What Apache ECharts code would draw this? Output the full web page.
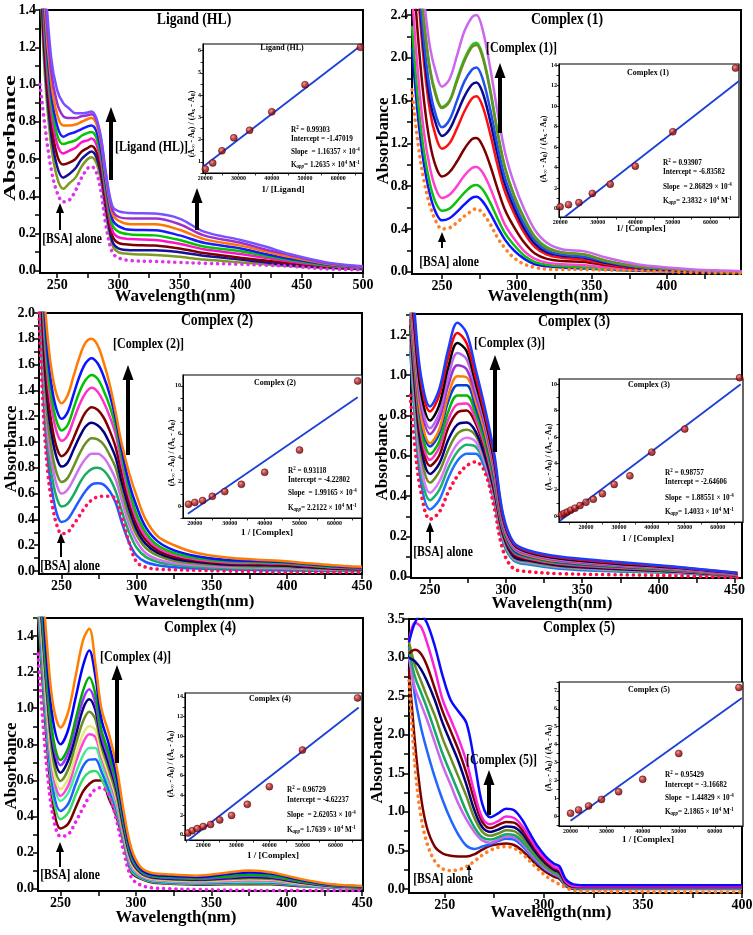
<!DOCTYPE html>
<html><head><meta charset="utf-8">
<script src="https://cdn.jsdelivr.net/npm/echarts@6.0.0/dist/echarts.min.js"></script>
<style>html,body{margin:0;padding:0;background:#fff}#c{width:753px;height:935px}</style>
</head><body><div id="c"></div>
<script>
// ================= DATA =================
// ---- Panel 1 : Ligand (HL) ----
const wl1 = [236,240,245,250,255,260,265,270,275,278,282,286,290,295,300,310,330,350,370,400,420,440,470,500];
const p1_bsa = [1.00,0.78,0.55,0.42,0.37,0.38,0.43,0.50,0.55,0.56,0.53,0.42,0.24,0.10,0.07,0.055,0.05,0.045,0.04,0.035,0.03,0.025,0.01,0.005];
const p1_s1 = [1.60,1.05,0.68,0.50,0.44,0.47,0.50,0.56,0.60,0.61,0.58,0.48,0.30,0.14,0.10,0.09,0.085,0.075,0.06,0.045,0.035,0.025,0.015,0.008];
const p1_s2 = [1.70,1.12,0.74,0.56,0.50,0.52,0.55,0.60,0.63,0.64,0.61,0.51,0.33,0.16,0.12,0.11,0.11,0.10,0.08,0.06,0.045,0.03,0.018,0.01];
const p1_s3 = [1.80,1.18,0.80,0.62,0.57,0.58,0.60,0.64,0.66,0.67,0.64,0.54,0.36,0.19,0.15,0.14,0.135,0.12,0.095,0.07,0.055,0.04,0.022,0.012];
const p1_s4 = [1.90,1.24,0.86,0.68,0.63,0.645,0.66,0.69,0.70,0.71,0.68,0.58,0.40,0.22,0.18,0.17,0.165,0.145,0.115,0.09,0.07,0.05,0.027,0.014];
const p1_s5 = [2.00,1.30,0.91,0.73,0.68,0.69,0.70,0.725,0.74,0.745,0.715,0.61,0.43,0.25,0.21,0.195,0.19,0.165,0.13,0.105,0.08,0.058,0.03,0.016];
const p1_s6 = [2.10,1.36,0.96,0.78,0.72,0.735,0.745,0.76,0.775,0.78,0.75,0.64,0.46,0.28,0.24,0.22,0.218,0.19,0.15,0.12,0.09,0.065,0.034,0.018];
const p1_s7 = [2.20,1.42,1.02,0.84,0.78,0.78,0.785,0.80,0.815,0.82,0.79,0.68,0.49,0.31,0.27,0.25,0.25,0.22,0.17,0.135,0.105,0.075,0.038,0.02];
const p1_s8 = [2.30,1.50,1.08,0.90,0.83,0.82,0.82,0.83,0.835,0.84,0.81,0.70,0.51,0.33,0.29,0.28,0.28,0.25,0.19,0.15,0.115,0.085,0.042,0.022];
const p1_s9 = [2.40,1.60,1.15,0.97,0.90,0.87,0.845,0.845,0.85,0.855,0.82,0.71,0.52,0.35,0.32,0.31,0.307,0.28,0.21,0.165,0.13,0.09,0.045,0.024];
const p1_colors = ['#dd33ee','#7f9a1f','#12129a','#7f0000','#ff11cc','#00c800','#1a1aff','#ff7700','#9a30d0','#7a50ff'];

// ---- Panel 2 : Complex (1) ----
const wl2 = [230,234,238,242,246,250,255,260,265,270,273,277,282,287,292,298,305,312,320,330,345,360,380,400,425,450];
const p2_bsa = [1.7,1.2,0.85,0.62,0.47,0.40,0.41,0.46,0.52,0.57,0.59,0.55,0.45,0.32,0.22,0.13,0.07,0.04,0.025,0.02,0.02,0.015,0.01,0.0,-0.01,-0.015];
const p2_s1 = [2.1,1.45,1.0,0.72,0.55,0.48,0.50,0.56,0.63,0.69,0.70,0.66,0.55,0.42,0.30,0.20,0.12,0.07,0.05,0.04,0.03,0.02,0.01,0.005,-0.005,-0.01];
const p2_s2 = [2.3,1.6,1.12,0.82,0.64,0.57,0.59,0.66,0.74,0.80,0.81,0.77,0.65,0.50,0.36,0.25,0.15,0.09,0.065,0.05,0.04,0.025,0.015,0.008,0,-0.008];
const p2_s3 = [2.6,1.85,1.3,0.97,0.77,0.69,0.72,0.80,0.90,0.97,0.98,0.93,0.79,0.61,0.44,0.31,0.19,0.12,0.085,0.07,0.06,0.04,0.02,0.01,0.0,-0.005];
const p2_s4 = [3.0,2.2,1.6,1.2,0.98,0.89,0.93,1.03,1.15,1.24,1.25,1.18,1.0,0.78,0.58,0.42,0.27,0.17,0.12,0.1,0.09,0.06,0.03,0.015,0.0,-0.005];
const p2_s5 = [3.2,2.6,1.95,1.5,1.26,1.15,1.2,1.34,1.5,1.62,1.64,1.55,1.3,1.0,0.75,0.55,0.36,0.23,0.16,0.13,0.11,0.07,0.035,0.02,0.005,0.0];
const p2_s6 = [3.3,2.7,2.05,1.6,1.38,1.27,1.33,1.48,1.64,1.75,1.77,1.68,1.42,1.1,0.82,0.6,0.4,0.26,0.18,0.15,0.13,0.08,0.04,0.02,0.005,0.0];
const p2_s7 = [3.4,2.8,2.15,1.7,1.46,1.35,1.42,1.6,1.78,1.89,1.91,1.81,1.53,1.18,0.88,0.65,0.44,0.29,0.2,0.16,0.14,0.09,0.045,0.025,0.008,0.0];
const p2_s8 = [3.5,3.0,2.35,1.9,1.66,1.54,1.6,1.8,1.99,2.12,2.14,2.03,1.72,1.32,0.98,0.72,0.5,0.33,0.23,0.18,0.16,0.1,0.05,0.03,0.01,0.0];
const p2_s9 = [3.5,3.0,2.33,1.88,1.64,1.53,1.59,1.78,1.97,2.10,2.12,2.01,1.70,1.30,0.97,0.71,0.49,0.32,0.22,0.18,0.16,0.1,0.05,0.03,0.01,0.0];
const p2_s10 = [3.6,3.2,2.55,2.1,1.86,1.73,1.8,2.02,2.25,2.38,2.40,2.27,1.92,1.5,1.12,0.83,0.58,0.39,0.27,0.21,0.19,0.13,0.07,0.04,0.015,0.005];
const p2_colors = ['#ff7f27','#0a14ff','#10c010','#ff40d0','#7a0000','#ff1010','#0a0a90','#2050f0','#22cc22','#6b8e23','#cc66ee'];

// ---- Panel 3 : Complex (2) ----
const wl3 = [235,238,241,244,247,250,254,258,262,266,270,274,278,282,286,290,295,300,306,314,325,340,360,380,395,410,430,450];
const p3_bsa = [2.0,1.2,0.75,0.5,0.35,0.29,0.30,0.36,0.43,0.50,0.55,0.575,0.58,0.58,0.56,0.42,0.22,0.07,0.03,0.015,0.01,0.005,0.0,-0.005,-0.01,-0.01,-0.01,-0.01];
const p3_s1 = [2.2,1.35,0.85,0.6,0.44,0.38,0.40,0.47,0.55,0.62,0.67,0.68,0.67,0.62,0.53,0.38,0.22,0.12,0.07,0.045,0.03,0.02,0.012,0.008,0.006,0.004,0.0,0.0];
const p3_s2 = [2.3,1.45,0.95,0.71,0.56,0.50,0.52,0.59,0.68,0.75,0.79,0.80,0.78,0.72,0.62,0.47,0.3,0.18,0.11,0.07,0.048,0.032,0.022,0.017,0.015,0.012,0.006,0.003];
const p3_s3 = [2.4,1.55,1.05,0.81,0.66,0.60,0.63,0.71,0.80,0.87,0.91,0.91,0.88,0.81,0.71,0.55,0.36,0.23,0.14,0.09,0.06,0.045,0.032,0.026,0.024,0.018,0.01,0.006];
const p3_s4 = [2.5,1.65,1.15,0.9,0.75,0.69,0.72,0.81,0.91,0.99,1.03,1.02,0.98,0.9,0.8,0.62,0.42,0.28,0.18,0.12,0.08,0.058,0.042,0.036,0.033,0.025,0.015,0.01];
const p3_s5 = [2.6,1.75,1.27,1.02,0.87,0.81,0.84,0.94,1.04,1.12,1.15,1.13,1.08,0.99,0.88,0.69,0.48,0.32,0.21,0.14,0.095,0.07,0.05,0.045,0.042,0.033,0.02,0.013];
const p3_s6 = [2.7,1.85,1.35,1.1,0.95,0.89,0.93,1.03,1.14,1.23,1.27,1.25,1.19,1.09,0.96,0.76,0.53,0.36,0.24,0.16,0.11,0.08,0.058,0.053,0.05,0.04,0.024,0.016];
const p3_s7 = [2.8,1.95,1.47,1.22,1.07,1.01,1.05,1.17,1.29,1.38,1.42,1.39,1.31,1.2,1.06,0.83,0.58,0.4,0.27,0.18,0.125,0.09,0.067,0.062,0.058,0.047,0.028,0.02];
const p3_s8 = [2.9,2.05,1.55,1.3,1.15,1.09,1.13,1.26,1.39,1.48,1.52,1.49,1.4,1.28,1.12,0.89,0.63,0.44,0.3,0.2,0.14,0.1,0.075,0.07,0.065,0.052,0.032,0.024];
const p3_s9 = [3.0,2.15,1.65,1.39,1.24,1.18,1.23,1.37,1.51,1.61,1.65,1.61,1.51,1.37,1.18,0.94,0.68,0.5,0.34,0.23,0.16,0.115,0.085,0.078,0.072,0.058,0.038,0.028];
const p3_s10 = [3.1,2.25,1.78,1.51,1.36,1.30,1.36,1.51,1.66,1.77,1.80,1.75,1.62,1.45,1.23,0.99,0.76,0.58,0.40,0.27,0.2,0.14,0.105,0.088,0.08,0.065,0.045,0.033];
const p3_colors = ['#ff1060','#1e5aff','#1aaa60','#d070f0','#6b8e23','#000080','#800000','#ff30d0','#00c400','#0a14ff','#ff7a00'];

// ---- Panel 4 : Complex (3) ----
const wl4 = [237,240,244,250,256,262,268,274,280,286,292,298,305,315,335,370,410,452];
const p4_bsa = [0.9,0.65,0.42,0.285,0.32,0.42,0.5,0.55,0.57,0.52,0.35,0.13,0.04,0.025,0.015,0.01,0.005,-0.005];
const p4_s1 = [1.12,0.79,0.47,0.334,0.38,0.49,0.575,0.61,0.61,0.54,0.38,0.17,0.08,0.06,0.04,0.027,0.018,0.0];
const p4_s2 = [1.15,0.83,0.52,0.38,0.43,0.54,0.62,0.655,0.645,0.56,0.39,0.18,0.085,0.065,0.045,0.03,0.02,0.002];
const p4_s3 = [1.18,0.87,0.56,0.417,0.47,0.58,0.66,0.69,0.67,0.57,0.4,0.19,0.09,0.07,0.048,0.034,0.022,0.003];
const p4_s4 = [1.22,0.91,0.61,0.467,0.52,0.63,0.71,0.73,0.7,0.59,0.42,0.2,0.095,0.075,0.052,0.037,0.024,0.004];
const p4_s5 = [1.25,0.95,0.65,0.51,0.56,0.68,0.755,0.765,0.72,0.6,0.43,0.21,0.1,0.08,0.056,0.04,0.026,0.005];
const p4_s6 = [1.28,0.99,0.69,0.55,0.6,0.74,0.815,0.825,0.76,0.63,0.45,0.22,0.11,0.085,0.06,0.043,0.028,0.006];
const p4_s7 = [1.3,1.02,0.72,0.58,0.64,0.78,0.855,0.86,0.78,0.65,0.46,0.23,0.12,0.09,0.064,0.046,0.03,0.007];
const p4_s8 = [1.33,1.05,0.75,0.609,0.67,0.82,0.9,0.9,0.81,0.67,0.48,0.24,0.125,0.095,0.068,0.049,0.032,0.008];
const p4_s9 = [1.36,1.08,0.78,0.646,0.71,0.87,0.95,0.95,0.84,0.7,0.5,0.25,0.13,0.1,0.072,0.052,0.035,0.009];
const p4_s10 = [1.38,1.1,0.8,0.662,0.73,0.9,0.995,0.99,0.87,0.72,0.52,0.26,0.14,0.105,0.076,0.055,0.037,0.01];
const p4_s11 = [1.42,1.15,0.85,0.708,0.78,0.95,1.05,1.03,0.9,0.75,0.54,0.27,0.145,0.11,0.08,0.058,0.04,0.012];
const p4_s12 = [1.45,1.18,0.88,0.737,0.81,0.99,1.11,1.08,0.93,0.77,0.56,0.28,0.15,0.115,0.085,0.062,0.042,0.014];
const p4_s13 = [1.5,1.22,0.92,0.775,0.85,1.04,1.16,1.12,0.96,0.79,0.58,0.29,0.16,0.12,0.09,0.066,0.045,0.016];
const p4_s14 = [1.55,1.26,0.97,0.82,0.9,1.09,1.21,1.16,0.99,0.81,0.6,0.3,0.165,0.125,0.095,0.07,0.048,0.018];
const p4_s15 = [1.6,1.3,1.0,0.845,0.93,1.13,1.26,1.21,1.03,0.84,0.62,0.31,0.17,0.13,0.1,0.075,0.05,0.02];
const p4_colors = ['#ff1040','#2070ff','#20b070','#dd77ff','#6b8e23','#000080','#800000','#ff33cc','#00bb00','#0040dd','#ff8000','#9933cc','#bb66ee','#000000','#ff0000','#1a3cff'];

// ---- Panel 5 : Complex (4) ----
const wl5 = [235,238,241,245,250,255,260,265,269,273,277,282,287,292,297,303,310,320,340,360,375,390,410,430,450];
const p5_bsa = [1.3,0.95,0.66,0.4,0.29,0.3,0.37,0.45,0.51,0.55,0.56,0.52,0.38,0.2,0.06,0.02,0.005,0.0,-0.005,-0.008,-0.01,-0.01,-0.01,-0.01,-0.01];
const p5_s1 = [1.5,1.15,0.79,0.46,0.333,0.36,0.45,0.54,0.58,0.6,0.6,0.5,0.4,0.25,0.09,0.055,0.036,0.028,0.022,0.024,0.025,0.024,0.013,0.005,0.001];
const p5_s2 = [1.55,1.2,0.84,0.51,0.385,0.42,0.52,0.61,0.645,0.652,0.61,0.52,0.42,0.26,0.1,0.06,0.04,0.032,0.026,0.028,0.03,0.028,0.016,0.006,0.002];
const p5_s3 = [1.58,1.25,0.88,0.55,0.43,0.47,0.58,0.68,0.715,0.717,0.65,0.55,0.44,0.27,0.11,0.065,0.044,0.036,0.03,0.033,0.035,0.033,0.019,0.008,0.003];
const p5_s4 = [1.62,1.3,0.93,0.61,0.486,0.53,0.64,0.74,0.78,0.78,0.69,0.58,0.46,0.28,0.12,0.07,0.048,0.04,0.034,0.038,0.04,0.038,0.022,0.009,0.004];
const p5_s5 = [1.65,1.33,0.96,0.64,0.514,0.57,0.7,0.81,0.856,0.84,0.73,0.61,0.48,0.29,0.13,0.075,0.052,0.044,0.038,0.043,0.046,0.044,0.025,0.01,0.005];
const p5_s6 = [1.68,1.36,1.0,0.67,0.551,0.61,0.74,0.86,0.90,0.88,0.75,0.63,0.5,0.3,0.14,0.08,0.056,0.048,0.042,0.048,0.052,0.049,0.028,0.012,0.006];
const p5_s7 = [1.72,1.4,1.05,0.72,0.597,0.66,0.8,0.93,0.98,0.94,0.79,0.66,0.52,0.31,0.15,0.085,0.06,0.052,0.046,0.053,0.058,0.054,0.031,0.013,0.007];
const p5_s8 = [1.75,1.44,1.09,0.77,0.643,0.71,0.85,1.0,1.05,0.99,0.82,0.69,0.55,0.33,0.16,0.09,0.064,0.056,0.05,0.058,0.065,0.06,0.034,0.015,0.008];
const p5_s9 = [1.78,1.47,1.12,0.81,0.684,0.75,0.9,1.05,1.105,1.03,0.85,0.72,0.57,0.35,0.17,0.095,0.068,0.06,0.054,0.063,0.071,0.065,0.037,0.016,0.009];
const p5_s10 = [1.8,1.5,1.15,0.84,0.713,0.78,0.94,1.1,1.17,1.08,0.88,0.75,0.59,0.36,0.18,0.1,0.072,0.064,0.058,0.068,0.077,0.07,0.04,0.018,0.01];
const p5_s11 = [1.9,1.6,1.25,0.93,0.80,0.88,1.06,1.24,1.32,1.18,0.94,0.8,0.63,0.39,0.2,0.11,0.08,0.072,0.065,0.08,0.09,0.082,0.047,0.021,0.012];
const p5_s12 = [2.0,1.7,1.35,1.02,0.893,0.98,1.18,1.38,1.44,1.25,1.0,0.86,0.68,0.42,0.22,0.12,0.088,0.08,0.072,0.088,0.1,0.09,0.052,0.024,0.015];
const p5_colors = ['#ee22ee','#7a0000','#33dd66','#1e60ff','#44ee99','#ff44dd','#e6e87a','#6b8e23','#000080','#9933ff','#00aa00','#0000ff','#ff7f00'];

// ---- Panel 6 : Complex (5) ----
const wl6 = [232,235,238,241,245,249,253,257,261,265,269,273,277,281,285,289,293,297,301,305,308,311,315,320,340,370,400];
const p6_bsa = [2.7,1.6,0.95,0.6,0.36,0.26,0.24,0.25,0.29,0.36,0.44,0.5,0.54,0.55,0.53,0.46,0.36,0.26,0.17,0.1,0.06,0.02,-0.02,-0.03,-0.035,-0.04,-0.04];
const p6_s1 = [2.85,1.9,1.2,0.8,0.55,0.46,0.43,0.42,0.42,0.45,0.51,0.56,0.58,0.59,0.57,0.5,0.4,0.3,0.22,0.16,0.13,0.04,0.0,0.0,0.0,0.0,0.0];
const p6_s2 = [3.15,2.5,2.1,1.8,1.45,1.15,0.9,0.7,0.56,0.52,0.55,0.58,0.62,0.65,0.64,0.56,0.45,0.34,0.25,0.19,0.15,0.05,0.01,0.005,0.005,0.005,0.005];
const p6_s3 = [3.0,2.6,2.4,2.2,1.9,1.6,1.35,1.1,0.9,0.74,0.63,0.6,0.64,0.68,0.67,0.59,0.47,0.36,0.26,0.2,0.16,0.055,0.015,0.01,0.01,0.01,0.01];
const p6_s4 = [3.1,2.75,2.55,2.35,2.05,1.75,1.5,1.25,1.0,0.8,0.67,0.64,0.67,0.71,0.7,0.62,0.5,0.38,0.28,0.21,0.17,0.06,0.02,0.015,0.015,0.015,0.015];
const p6_s5 = [3.2,2.9,2.7,2.5,2.25,1.95,1.7,1.45,1.2,0.92,0.74,0.69,0.72,0.76,0.75,0.67,0.54,0.41,0.3,0.23,0.19,0.07,0.025,0.02,0.02,0.02,0.02];
const p6_s6 = [3.0,2.95,2.85,2.7,2.45,2.15,1.9,1.65,1.35,1.02,0.8,0.74,0.77,0.81,0.8,0.72,0.58,0.44,0.33,0.25,0.21,0.08,0.03,0.025,0.025,0.025,0.025];
const p6_s7 = [3.05,3.1,3.05,2.9,2.6,2.3,2.05,1.8,1.5,1.15,0.87,0.79,0.83,0.87,0.86,0.77,0.62,0.47,0.35,0.27,0.23,0.09,0.035,0.03,0.03,0.03,0.03];
const p6_s8 = [3.2,3.45,3.4,3.2,2.85,2.45,2.2,1.95,1.65,1.25,0.92,0.84,0.88,0.94,0.92,0.82,0.66,0.5,0.38,0.29,0.25,0.1,0.04,0.035,0.035,0.035,0.035];
const p6_s9 = [3.2,3.45,3.55,3.45,3.15,2.76,2.45,2.3,2.15,1.65,1.1,0.93,0.98,1.04,1.02,0.9,0.72,0.55,0.42,0.33,0.29,0.13,0.06,0.05,0.05,0.05,0.05];
const p6_colors = ['#ff7f27','#7a0000','#2266ff','#cc66ee','#11aa66','#6b8e23','#000080','#800000','#ff22dd','#0a0aff'];

// ---- Inset (Benesi-Hildebrand) data ----
const ins1_x = [20000,22222,25000,28571,33333,40000,50000,66667];
const ins1_y = [0.68,0.95,1.5,2.08,2.42,3.25,4.47,6.15];
const ins1_fit = [[19300,0.78],[67450,6.3]];
const ins2_x = [20000,22222,25000,28571,33333,40000,50000,66667];
const ins2_y = [0.2,0.4,0.6,1.5,2.4,4.15,7.5,13.7];
const ins2_fit = [[21200,-0.8],[67600,12.45]];
const ins3_x = [18182,20000,22222,25000,28571,33333,40000,50000,66667];
const ins3_y = [0.15,0.3,0.45,0.8,1.2,1.8,2.8,4.65,10.4];
const ins3_fit = [[18000,-0.64],[66667,9.05]];
const ins4_x = [12500,13333,14286,15385,16667,18182,20000,22222,25000,28571,33333,40000,50000,66667];
const ins4_y = [0.08,0.2,0.3,0.45,0.6,0.8,1.05,1.28,1.7,2.4,3.05,4.85,6.6,10.5];
const ins4_fit = [[12000,-0.38],[67000,10.0]];
const ins5_x = [15385,16667,18182,20000,22222,25000,28571,33333,40000,50000,66667];
const ins5_y = [0.18,0.42,0.63,0.84,1.05,1.51,1.97,3.09,4.89,8.6,13.9];
const ins5_fit = [[15000,-0.69],[67000,12.93]];
const ins6_x = [20000,22222,25000,28571,33333,40000,50000,66667];
const ins6_y = [0.15,0.34,0.56,0.93,1.36,2.05,3.5,7.19];
const ins6_fit = [[20000,-0.27],[67500,6.6]];

// ---- tick labels ----
const p1_xLabels = [250,300,350,400,450,500];
const p1_yLabels = [0,0.2,0.4,0.6,0.8,1.0,1.2,1.4];
const p2_xLabels = [250,300,350,400,450];
const p2_yLabels = [0,0.4,0.8,1.2,1.6,2.0,2.4];
const p3_xLabels = [250,300,350,400,450];
const p3_yLabels = [0,0.2,0.4,0.6,0.8,1.0,1.2,1.4,1.6,1.8,2.0];
const p4_xLabels = [250,300,350,400,450];
const p4_yLabels = [0,0.2,0.4,0.6,0.8,1.0,1.2];
const p5_xLabels = [250,300,350,400,450];
const p5_yLabels = [0,0.2,0.4,0.6,0.8,1.0,1.2,1.4];
const p6_xLabels = [250,300,350,400];
const p6_yLabels = [0,0.5,1.0,1.5,2.0,2.5,3.0,3.5];
const ins_xLabels = [20000,30000,40000,50000,60000];
const ins1_yLabels = [1,2,3,4,5,6];
const ins2_yLabels = [0,2,4,6,8,10,12,14];
const ins3_yLabels = [0,2,4,6,8,10];
const ins4_yLabels = [0,2,4,6,8,10];
const ins5_yLabels = [0,2,4,6,8,10,12,14];
const ins6_yLabels = [0,1,2,3,4,5,6,7];

// ---- texts ----
const titles = ['Ligand (HL)','Complex (1)','Complex (2)','Complex (3)','Complex (4)','Complex (5)'];
const arrowLabels = ['[Ligand (HL)]','[Complex (1)]','[Complex (2)]','[Complex (3)]','[Complex (4)]','[Complex (5)]'];
const insXNames = ['1/ [Ligand]','1/ [Complex]','1 / [Complex]','1 / [Complex]','1 / [Complex]','1 / [Complex]'];
const stats = [
  ['0.99303','-1.47019','1.16357','-4','1.2635','4'],
  ['0.93907','-6.83582','2.86829','-4','2.3832','4'],
  ['0.93118','-4.22802','1.99165','-4','2.2122','4'],
  ['0.98757','-2.64606','1.88551','-4','1.4033','4'],
  ['0.96729','-4.62237','2.62053','-4','1.7639','4'],
  ['0.95429','-3.16682','1.44829','-4','2.1865','4']
];

// ================= LAYOUT / STYLE =================
const SERIF = '"Liberation Serif","Times New Roman",Times,serif';
const mainGrids = [
  {left:40, top:10, width:323, height:263, x:[236,500], y:[-0.012,1.4]},
  {left:412, top:10, width:329, height:264, x:[230,449.5], y:[-0.0215,2.447]},
  {left:39, top:313, width:323, height:261, x:[235,450], y:[-0.023,2.0]},
  {left:411, top:314, width:331, height:264, x:[237.5,455], y:[-0.0065,1.304]},
  {left:38, top:618, width:325, height:273, x:[235,450.5], y:[-0.013,1.5]},
  {left:409, top:619, width:333, height:274, x:[232,400], y:[-0.052,3.5]}
];
const insetGrids = [
  {left:203, top:44, width:160, height:129, x:[19300,67450], y:[0.5,6.3]},
  {left:559, top:64, width:180, height:153, x:[19700,67600], y:[-0.8,14.1]},
  {left:183, top:375, width:179, height:143, x:[16600,67900], y:[-1.0,10.9]},
  {left:559, top:379, width:184, height:143, x:[11800,67700], y:[-0.45,10.4]},
  {left:185, top:693, width:177, height:147, x:[14500,68000], y:[-0.53,14.4]},
  {left:559, top:682, width:184, height:144, x:[16800,67800], y:[-0.56,7.5]}
];
const panels = [
  {wl:wl1, curves:[p1_bsa,p1_s1,p1_s2,p1_s3,p1_s4,p1_s5,p1_s6,p1_s7,p1_s8,p1_s9], colors:p1_colors, xl:p1_xLabels, yl:p1_yLabels},
  {wl:wl2, curves:[p2_bsa,p2_s1,p2_s2,p2_s3,p2_s4,p2_s5,p2_s6,p2_s7,p2_s8,p2_s9,p2_s10], colors:p2_colors, xl:p2_xLabels, yl:p2_yLabels},
  {wl:wl3, curves:[p3_bsa,p3_s1,p3_s2,p3_s3,p3_s4,p3_s5,p3_s6,p3_s7,p3_s8,p3_s9,p3_s10], colors:p3_colors, xl:p3_xLabels, yl:p3_yLabels},
  {wl:wl4, curves:[p4_bsa,p4_s1,p4_s2,p4_s3,p4_s4,p4_s5,p4_s6,p4_s7,p4_s8,p4_s9,p4_s10,p4_s11,p4_s12,p4_s13,p4_s14,p4_s15], colors:p4_colors, xl:p4_xLabels, yl:p4_yLabels},
  {wl:wl5, curves:[p5_bsa,p5_s1,p5_s2,p5_s3,p5_s4,p5_s5,p5_s6,p5_s7,p5_s8,p5_s9,p5_s10,p5_s11,p5_s12], colors:p5_colors, xl:p5_xLabels, yl:p5_yLabels},
  {wl:wl6, curves:[p6_bsa,p6_s1,p6_s2,p6_s3,p6_s4,p6_s5,p6_s6,p6_s7,p6_s8,p6_s9], colors:p6_colors, xl:p6_xLabels, yl:p6_yLabels}
];
const insets = [
  {x:ins1_x, y:ins1_y, fit:ins1_fit, yl:ins1_yLabels},
  {x:ins2_x, y:ins2_y, fit:ins2_fit, yl:ins2_yLabels},
  {x:ins3_x, y:ins3_y, fit:ins3_fit, yl:ins3_yLabels},
  {x:ins4_x, y:ins4_y, fit:ins4_fit, yl:ins4_yLabels},
  {x:ins5_x, y:ins5_y, fit:ins5_fit, yl:ins5_yLabels},
  {x:ins6_x, y:ins6_y, fit:ins6_fit, yl:ins6_yLabels}
];

function ticksFrom(labels, min, max) {
  const step = labels[1] - labels[0];
  const out = [];
  for (let i = -1; i < labels.length; i++) {
    const a = labels[0] + i * step;
    [a, a + step / 2].forEach(v => {
      v = Math.round(v * 1e6) / 1e6;
      if (v >= min - 1e-9 && v <= max + 1e-9) out.push(v);
    });
  }
  return out;
}
function makeAxis(dim, gi, min, max, labels, fmt, inset) {
  return {
    type: 'value', gridIndex: gi, min: min, max: max,
    position: dim === 'x' ? 'bottom' : 'left',
    axisLine: {show: true, onZero: false, lineStyle: {color: '#000', width: inset ? 1 : 2}},
    axisTick: {show: true, inside: false, length: inset ? 2.5 : 5, customValues: ticksFrom(labels, min, max),
               lineStyle: {color: '#000', width: inset ? 0.8 : 1.5}},
    axisLabel: {show: true, customValues: labels, formatter: fmt, color: '#000', fontFamily: SERIF,
                fontWeight: 'bold', fontSize: inset ? 6 : 14, margin: inset ? 2 : (dim === 'x' ? 5 : 4)},
    splitLine: {show: false}, minorTick: {show: false}, minorSplitLine: {show: false}
  };
}

const grid = [], xAxis = [], yAxis = [], series = [];
mainGrids.forEach((g, i) => {
  grid.push({left: g.left, top: g.top, width: g.width, height: g.height, show: true, borderColor: '#000',
             borderWidth: 2, backgroundColor: 'transparent', containLabel: false, outerBoundsMode: 'none'});
  xAxis.push(makeAxis('x', i, g.x[0], g.x[1], panels[i].xl, v => String(Math.round(v)), false));
  yAxis.push(makeAxis('y', i, g.y[0], g.y[1], panels[i].yl, v => v.toFixed(1), false));
});
insetGrids.forEach((g, i) => {
  grid.push({left: g.left, top: g.top, width: g.width, height: g.height, show: true, borderColor: '#000',
             borderWidth: 1.2, backgroundColor: '#fff', containLabel: false, outerBoundsMode: 'none'});
  xAxis.push(makeAxis('x', 6 + i, g.x[0], g.x[1], ins_xLabels, v => String(Math.round(v)), true));
  yAxis.push(makeAxis('y', 6 + i, g.y[0], g.y[1], insets[i].yl, v => String(Math.round(v)), true));
});

panels.forEach((p, pi) => {
  p.curves.forEach((vals, ci) => {
    const isBSA = ci === 0;
    series.push({
      type: 'line', xAxisIndex: pi, yAxisIndex: pi, silent: true, animation: false,
      data: p.wl.map((w, k) => [w, vals[k]]), smooth: 0.35, symbol: 'none', showSymbol: false, clip: true,
      lineStyle: isBSA ? {color: p.colors[ci], width: 3.6, type: [0.1, 6], cap: 'round'}
                       : {color: p.colors[ci], width: 2.5},
      z: isBSA ? 3 : 2
    });
  });
});
const dotColor = {type: 'radial', x: 0.38, y: 0.35, r: 0.7,
  colorStops: [{offset: 0, color: '#f08080'}, {offset: 0.45, color: '#b01818'}, {offset: 1, color: '#5a0000'}]};
insets.forEach((s, i) => {
  series.push({type: 'line', xAxisIndex: 6 + i, yAxisIndex: 6 + i, data: s.fit, symbol: 'none', silent: true,
               animation: false, lineStyle: {color: '#1c3fd6', width: 1.8}, z: 4});
  series.push({type: 'scatter', xAxisIndex: 6 + i, yAxisIndex: 6 + i, data: s.x.map((x, k) => [x, s.y[k]]),
               symbol: 'circle', symbolSize: 7, silent: true, animation: false, clip: false,
               itemStyle: {color: dotColor, borderColor: '#4a0000', borderWidth: 0.6}, z: 5});
});

// ================= ANNOTATIONS =================
const RICH = {
  sup: {fontSize: 5.5, fontWeight: 'bold', fontFamily: SERIF, fill: '#000', verticalAlign: 'top', padding: [0, 0, 4, 0]},
  sub: {fontSize: 5.5, fontWeight: 'bold', fontStyle: 'italic', fontFamily: SERIF, fill: '#000', verticalAlign: 'bottom', padding: [3, 0, 0, 0]},
  s8: {fontSize: 6, fontWeight: 'bold', fontFamily: SERIF, fill: '#000', verticalAlign: 'bottom', padding: [3, 0, 0, 0]}
};
function txt(x, y, text, size, o) {
  o = o || {};
  return {type: 'text', x: x, y: y, rotation: o.rot || 0, scaleX: o.sx || 1, scaleY: o.sy || 1, silent: true, z: 100,
    style: {text: text, fill: '#000', fontSize: size, fontWeight: 'bold', fontFamily: SERIF,
            align: o.align || 'center', verticalAlign: 'middle', textAlign: o.align || 'center',
            textVerticalAlign: 'middle', rich: RICH}};
}
function arrow(x, yTail, yHead, shaft, headW, headH) {
  return [
    {type: 'rect', silent: true, z: 100, shape: {x: x - shaft / 2, y: yHead + headH - 1, width: shaft, height: yTail - (yHead + headH - 1)}, style: {fill: '#000'}},
    {type: 'polygon', silent: true, z: 100, shape: {points: [[x - headW / 2, yHead + headH], [x + headW / 2, yHead + headH], [x, yHead]]}, style: {fill: '#000'}}
  ];
}
const g = [];
const titlePos = [[194,20],[567,20],[217,321],[574,322],[200,628],[579,628]];
const labelPos = [[115,147],[486,48],[113,344],[474,343],[100,657],[466,760]];
const bsaPos = [[72,239],[449,262],[70,566],[443,552],[70,875],[443,879]];
const absPos = [[11,138],[384,141],[12,449],[383,457],[12,766],[378,760]];
const wlPos = [[175,297],[548,297],[194,602],[552,604],[176,918],[551,913]];
for (let i = 0; i < 6; i++) {
  g.push(txt(titlePos[i][0], titlePos[i][1], titles[i], 16, {sx: 0.86}));
  g.push(txt(labelPos[i][0], labelPos[i][1], arrowLabels[i], 15, {align: 'left', sx: 0.8}));
  g.push(txt(bsaPos[i][0], bsaPos[i][1], '[BSA] alone', 14, {sx: 0.83}));
  g.push(txt(absPos[i][0], absPos[i][1], 'Absorbance', 17, {rot: Math.PI / 2, sx: i === 0 ? 1.45 : 1.0}));
  g.push(txt(wlPos[i][0], wlPos[i][1], 'Wavelength(nm)', 17));
}
[[111,180,107],[500,133,63],[128,455,365],[495,452,355],[117,763,665],[489,815,770]].forEach(a => g.push(...arrow(a[0], a[1], a[2], 4, 11, 15)));
g.push(...arrow(197, 230, 188, 4, 11, 15));
[[60,230,203],[442,248,232],[61,557,533],[430,543,522],[60,867,842]].forEach(a => g.push(...arrow(a[0], a[1], a[2], 2, 8, 10)));
g.push(...arrow(469, 876, 864, 1.2, 5, 6));

// inset texts
const insTitlePos = [[282,48],[648,73],[275,383],[649,385],[270,699],[649,690]];
const insStatPos = [[291,[130,138.5,152,165]],[663,[163,172,187,201]],[288,[471,480,493,508]],[665,[473,482,498,512]],[287,[790,800,815,830]],[665,[775,785,798,812]]];
const insXNamePos = [[283,190],[641,229],[267,533],[648,539],[273,856],[648,840]];
const insYNamePos = [[192,124],[544,149],[172,453],[549,457],[171,764],[549,758]];
for (let i = 0; i < 6; i++) {
  g.push(txt(insTitlePos[i][0], insTitlePos[i][1], titles[i], 8));
  const sx = insStatPos[i][0], sy = insStatPos[i][1], st = stats[i];
  const o = {align: 'left', sx: 0.9};
  g.push(txt(sx, sy[0], 'R{sup|2} = ' + st[0], 8, o));
  g.push(txt(sx, sy[1], 'Intercept = ' + st[1], 8, o));
  g.push(txt(sx, sy[2], 'Slope  = ' + st[2] + ' \u00d7 10{sup|' + st[3] + '}', 8, o));
  g.push(txt(sx, sy[3], 'K{sub|app}= ' + st[4] + ' \u00d7 10{sup|' + st[5] + '} M{sup|-1}', 8, o));
  g.push(txt(insXNamePos[i][0], insXNamePos[i][1], insXNames[i], 9));
  g.push(txt(insYNamePos[i][0], insYNamePos[i][1], '(A{s8|\u221e} - A{s8|0}) / (A{s8|x} - A{s8|0})', 8, {rot: Math.PI / 2}));
}

const chart = echarts.init(document.getElementById('c'), null, {renderer: 'canvas'});
chart.setOption({
  animation: false, backgroundColor: '#fff',
  grid: grid, xAxis: xAxis, yAxis: yAxis, series: series, graphic: {elements: g}
});
</script></body></html>
